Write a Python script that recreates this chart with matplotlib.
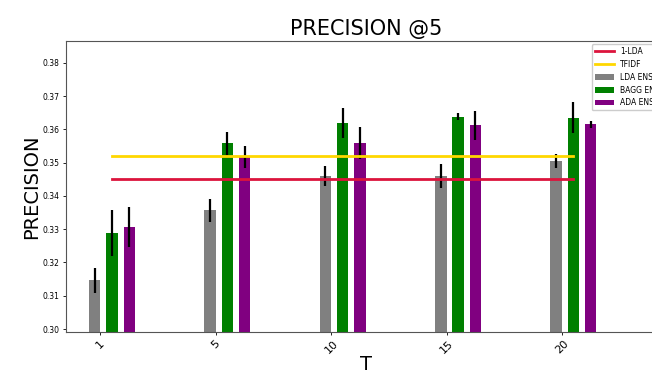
import numpy as np
import matplotlib
matplotlib.use("Agg")
import matplotlib.pyplot as plt

T_labels = ["1", "5", "10", "15", "20"]
lda_ens = [0.3146, 0.3357, 0.3460, 0.3460, 0.3505]
lda_err = [0.0038, 0.0034, 0.0029, 0.0036, 0.0020]
bagg_ens = [0.3288, 0.3558, 0.3619, 0.3638, 0.3635]
bagg_err = [0.0069, 0.0034, 0.0045, 0.0011, 0.0047]
ada_ens = [0.3308, 0.3516, 0.3559, 0.3612, 0.3615]
ada_err = [0.0060, 0.0033, 0.0048, 0.0043, 0.0010]
one_lda = 0.345
tfidf = 0.352

fig = plt.figure(figsize=(6.52, 3.76), dpi=100)
ax = fig.add_axes([0.101, 0.117, 0.92, 0.774])

x = np.arange(len(T_labels))
w = 0.1
ekw = dict(ecolor="black", elinewidth=1.6, capsize=0)
ax.bar(x - 0.05, lda_ens, w, yerr=lda_err, color="gray", label="LDA ENS", error_kw=ekw, zorder=2)
ax.bar(x + 0.10, bagg_ens, w, yerr=bagg_err, color="green", label="BAGG ENS", error_kw=ekw, zorder=2)
ax.bar(x + 0.25, ada_ens, w, yerr=ada_err, color="purple", label="ADA ENS", error_kw=ekw, zorder=2)
ax.plot(x + 0.10, [one_lda] * len(x), color="crimson", lw=2, label="1-LDA", zorder=3)
ax.plot(x + 0.10, [tfidf] * len(x), color="gold", lw=2, label="TFIDF", zorder=3)

ax.set_ylim(0.2991, 0.3866)
ax.set_xlim(-0.3, 4.9)
ax.set_yticks(np.arange(0.30, 0.381, 0.01))
ax.set_yticklabels([f"{v:.2f}" for v in np.arange(0.30, 0.381, 0.01)], fontsize=5.5)
ax.set_xticks(x)
ax.set_xticklabels(T_labels, rotation=45, fontsize=8)
ax.tick_params(axis="y", length=2.5, width=0.6, pad=2)
ax.tick_params(axis="x", length=2.5, width=0.6, pad=2)
for s in ax.spines.values():
    s.set_color("#555555")
    s.set_linewidth(0.8)

ax.set_title("PRECISION @5", fontsize=15, pad=4)
ax.set_ylabel("PRECISION", fontsize=14, labelpad=1)
ax.set_xlabel("T", fontsize=14, labelpad=0)

h, l = ax.get_legend_handles_labels()
want = ["1-LDA", "TFIDF", "LDA ENS", "BAGG ENS", "ADA ENS"]
order = [l.index(n) for n in want]
ax.legend([h[i] for i in order], [l[i] for i in order], loc="upper right", fontsize=5.5,
          framealpha=1, borderaxespad=0.4, handlelength=2.5)

fig.savefig("out.png", dpi=100)
